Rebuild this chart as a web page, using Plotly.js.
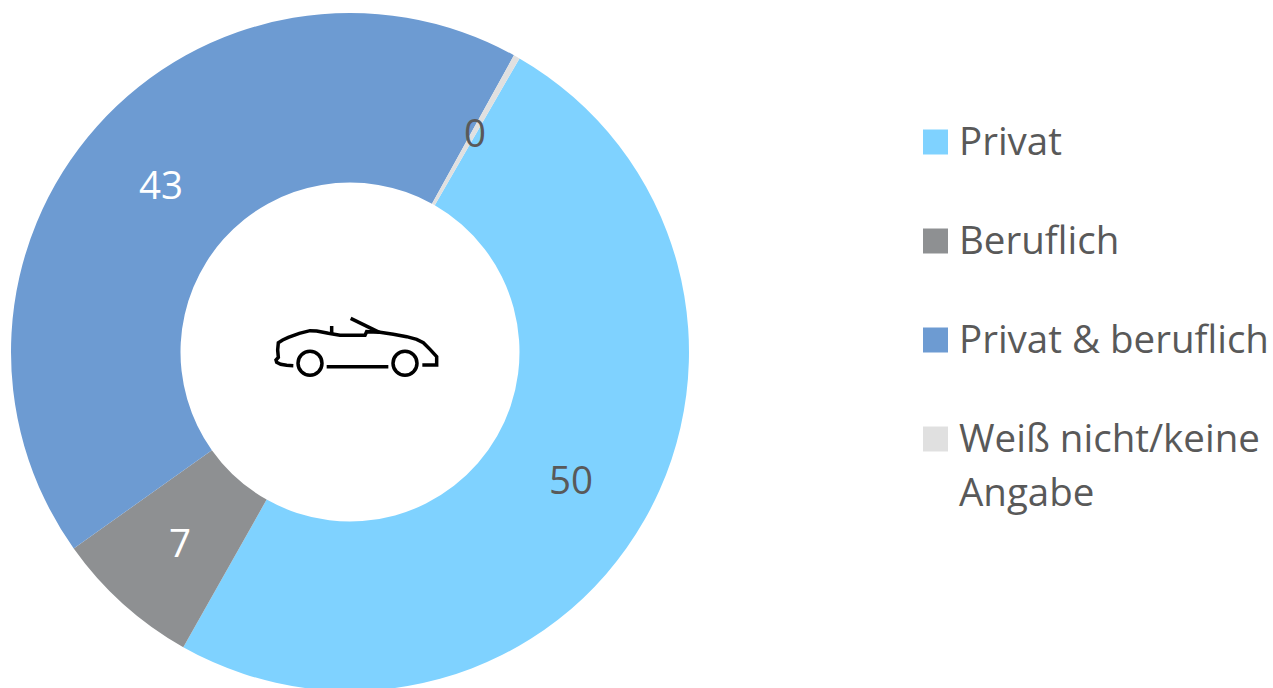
<!DOCTYPE html>
<html>
<head>
<meta charset="utf-8">
<script src="https://cdn.plot.ly/plotly-3.0.1.min.js"></script>
<style>html,body{margin:0;padding:0;width:1273px;height:688px;overflow:hidden;background:#fff}</style>
</head>
<body>
<div id="chart"></div>
<script>
const categories = ["Privat", "Beruflich", "Privat & beruflich", "Weiß nicht/keine<br>Angabe"];
const values = [50, 7, 43, 0.3];
const colors = ["#7fd2ff", "#8e9092", "#6d9bd2", "#e0e0e0"];
const labelColors = ["#595959", "#ffffff", "#ffffff", "#595959"];

const W = 1273, H = 720;           // canvas is taller than the window: the ring is cut at the bottom
const px = x => x / W, py = y => 1 - y / H;
const cx = 350, cy = 352, R = 339, rotation = 30;
const textColor = "#595959", family = '"Open Sans", sans-serif', fs = 38.5;

const shapes = [], annotations = [];

// legend
const legendY = [142, 241, 340, 439];
const lineGap = 54;
categories.forEach((c, i) => {
  shapes.push({type:"rect", xref:"paper", yref:"paper", layer:"above",
    x0:px(923), x1:px(948), y0:py(legendY[i]-12.5), y1:py(legendY[i]+12.5),
    fillcolor:colors[i], line:{width:0}});
  c.split("<br>").forEach((line, k) => annotations.push({xref:"paper", yref:"paper",
    x:px(957), y:py(legendY[i] - 2 + k*lineGap), xanchor:"left", yanchor:"middle",
    align:"left", showarrow:false, text:line, font:{family, size:fs, color:textColor}}));
});

// value labels at the middle of each ring segment, angles taken from the values
const total = values.reduce((a, b) => a + b, 0);
let acc = 0;
values.forEach((v, i) => {
  const a = (rotation + (acc + v/2) / total * 360) * Math.PI / 180;
  acc += v;
  annotations.push({xref:"paper", yref:"paper", xanchor:"center", yanchor:"middle", showarrow:false,
    x:px(cx + 254*Math.sin(a)), y:py(cy - 254*Math.cos(a) + 1),
    text:v.toFixed(0), font:{family, size:fs, color:labelColors[i]}});
});

// car icon, in zoom-crop units
const cz = (x, y) => `${px(260 + x/3)},${py(300 + y/3)}`;
const poly = pts => "M" + pts.map(p => cz(p[0], p[1])).join("L");
const carLines = [
  [[100,197],[80,196],[62,193],[50,187],[48,180],[55,172],[53,150],[55,128],[68,120],[85,112],[118,100],[150,92],[170,93],[205,100],[240,106],[280,106],[315,106],[320,95],[360,97],[400,103],[440,110],[470,118],[490,128],[510,148],[530,170],[530,195],[487,195]],
  [[272,55],[358,97]],
  [[215,78],[215,100]],
  [[200,200],[385,200]]
];
carLines.forEach(l => shapes.push({type:"path", xref:"paper", yref:"paper", layer:"above",
  path:poly(l), line:{color:"#000", width:3.5}}));
[[150,190],[435,190]].forEach(w => shapes.push({type:"circle", xref:"paper", yref:"paper", layer:"above",
  x0:px(260+(w[0]-36)/3), x1:px(260+(w[0]+36)/3),
  y0:py(300+(w[1]+36)/3), y1:py(300+(w[1]-36)/3),
  line:{color:"#000", width:3.5}, fillcolor:"rgba(0,0,0,0)"}));

Plotly.newPlot("chart", [{
  type:"pie", labels:categories, values:values, hole:0.5, sort:false, direction:"clockwise",
  rotation:rotation, marker:{colors:colors, line:{width:0}},
  textinfo:"none",
  domain:{x:[px(cx-R), px(cx+R)], y:[py(cy+R), py(cy-R)]},
  hoverinfo:"label+value", showlegend:false
}], {
  width:W, height:H, margin:{l:0,r:0,t:0,b:0,pad:0}, paper_bgcolor:"#fff",
  showlegend:false, shapes, annotations
}, {displayModeBar:false});
</script>
</body>
</html>
